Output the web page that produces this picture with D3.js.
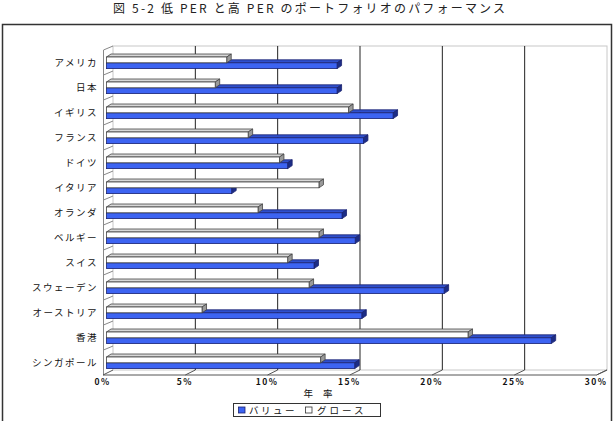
<!DOCTYPE html>
<html><head><meta charset="utf-8">
<script src="https://cdn.jsdelivr.net/npm/d3@7"></script>
<style>body{margin:0;background:#fff}svg{display:block}</style>
</head><body>
<script>
const categories = ["アメリカ","日本","イギリス","フランス","ドイツ","イタリア","オランダ","ベルギー","スイス","スウェーデン","オーストリア","香港","シンガポール"];
const growth = [7.3, 6.6, 14.7, 8.6, 10.5, 12.9, 9.2, 12.9, 11.0, 12.3, 5.8, 21.95, 13.0];
const value  = [14.0, 14.0, 17.4, 15.6, 11.0, 7.6, 14.3, 15.1, 12.6, 20.5, 15.5, 27.0, 15.07];
const ticks = [0, 5, 10, 15, 20, 25, 30];
const tickLabels = ["0%","5%","10%","15%","20%","25%","30%"];
const seriesNames = ["バリュー","グロース"];
const title = "図 5-2  低 PER と高 PER のポートフォリオのパフォーマンス";
const xTitle = "年 率";

const W = 615, H = 421;
const font = "'Noto Sans CJK JP', 'Noto Sans', sans-serif";
const svg = d3.select("body").append("svg").attr("width", W).attr("height", H);

// title
svg.append("text").attr("x", 309).attr("y", 12.5).attr("text-anchor", "middle")
  .attr("font-family", font).attr("font-size", 12).attr("fill", "#222")
  .attr("textLength", 392).attr("lengthAdjust", "spacing").text(title);

// outer frame
svg.append("rect").attr("x", 2.5).attr("y", 24.5).attr("width", 609).attr("height", 410)
  .attr("fill", "none").attr("stroke", "#333").attr("stroke-width", 1.5);

const yTop = 46, yBot = 371;
const y = d3.scaleBand().domain(categories).range([yTop, yBot]);
const xBack = d3.scaleLinear().domain([0, 30]).range([113, 607]);
const xFront = d3.scaleLinear().domain([0, 30]).range([103, 596.5]);
const xBar = d3.scaleLinear().domain([0, 30]).range([106.5, 600.6]);
const floorBack = 370, floorFront = 375;

// back wall
svg.append("rect").attr("x", xBack(0)).attr("y", yTop).attr("width", xBack(30) - xBack(0))
  .attr("height", floorBack - yTop).attr("fill", "#fff").attr("stroke", "#c8c8c8").attr("stroke-width", 1);
// gridlines
svg.append("g").selectAll("line").data(ticks.slice(1, -1)).join("line")
  .attr("x1", d => xBack(d)).attr("x2", d => xBack(d)).attr("y1", yTop).attr("y2", floorBack)
  .attr("stroke", "#222").attr("stroke-width", 1);
// left wall
svg.append("path").attr("d", `M${xFront(0)+0.5},${floorFront} L${xFront(0)+0.5},${yTop+4} L${xBack(0)},${yTop}`)
  .attr("fill", "none").attr("stroke", "#888").attr("stroke-width", 1);
svg.append("g").selectAll("line").data(d3.range(1, categories.length)).join("line")
  .attr("x1", xFront(0) + 0.5).attr("x2", xBack(0)).attr("y1", i => yTop + i * y.step() + 4).attr("y2", i => yTop + i * y.step())
  .attr("stroke", "#888").attr("stroke-width", 1);
// floor
svg.append("path").attr("d", `M${xFront(0)},${floorFront} L${xFront(30)},${floorFront} L${xBack(30)},${floorBack}`)
  .attr("fill", "none").attr("stroke", "#555").attr("stroke-width", 1);
svg.append("g").selectAll("line").data(ticks).join("line")
  .attr("x1", d => xFront(d)).attr("x2", d => xBack(d)).attr("y1", floorFront).attr("y2", floorBack)
  .attr("stroke", "#555").attr("stroke-width", 1);

// bars
const dx = 4.5, dy = 3, bh = 5.8;
function bar3d(g, v, top, fill, topFill, sideFill, stroke) {
  const x0 = xBar(0), x1 = xBar(v);
  g.append("path").attr("d", `M${x0},${top} L${x0+dx},${top-dy} L${x1+dx},${top-dy} L${x1},${top} Z`)
    .attr("fill", topFill).attr("stroke", stroke).attr("stroke-width", 0.8);
  g.append("path").attr("d", `M${x1},${top} L${x1+dx},${top-dy} L${x1+dx},${top+bh-dy} L${x1},${top+bh} Z`)
    .attr("fill", sideFill).attr("stroke", stroke).attr("stroke-width", 0.8);
  g.append("rect").attr("x", x0).attr("y", top).attr("width", x1 - x0).attr("height", bh)
    .attr("fill", fill).attr("stroke", stroke).attr("stroke-width", 0.8);
}
const barsG = svg.append("g");
categories.forEach((c, i) => {
  const b = y(c);
  const g = barsG.append("g");
  bar3d(g, value[i], b + 11 + bh, "#3d64f2", "#2f4fcc", "#1c2d86", "#1a2270");
  bar3d(g, growth[i], b + 11, "#ffffff", "#d8d8d8", "#9a9a9a", "#444");
});

// category labels
svg.append("g").selectAll("text").data(categories).join("text")
  .attr("x", 98).attr("y", d => y(d) + 19.5).attr("text-anchor", "end")
  .attr("font-family", font).attr("font-size", 9.5).attr("letter-spacing", "1.5px").attr("fill", "#111")
  .text(d => d);

// tick labels
svg.append("g").selectAll("text").data(ticks).join("text")
  .attr("x", d => xFront(d) - 0.5).attr("y", 385).attr("text-anchor", "middle")
  .attr("font-family", font).attr("font-size", 8.5).attr("font-weight", 600).attr("letter-spacing", "1.5px").attr("fill", "#111")
  .text((d, i) => tickLabels[i]);

// axis title
svg.append("text").attr("x", 320).attr("y", 397).attr("text-anchor", "middle")
  .attr("font-family", font).attr("font-size", 9.5).attr("letter-spacing", "4px").attr("fill", "#111").text(xTitle);

// legend
const lg = svg.append("g");
lg.append("rect").attr("x", 233.5).attr("y", 403.5).attr("width", 147).attr("height", 13)
  .attr("fill", "#fff").attr("stroke", "#333").attr("stroke-width", 1);
lg.append("rect").attr("x", 238.5).attr("y", 407).attr("width", 6.5).attr("height", 6)
  .attr("fill", "#3d64f2").attr("stroke", "#1a2270").attr("stroke-width", 0.8);
lg.append("text").attr("x", 249).attr("y", 414).attr("font-family", font).attr("font-size", 9.5)
  .attr("letter-spacing", "2.5px").attr("fill", "#111").text(seriesNames[0]);
lg.append("rect").attr("x", 305.5).attr("y", 407).attr("width", 6.5).attr("height", 6)
  .attr("fill", "#fff").attr("stroke", "#333").attr("stroke-width", 0.8);
lg.append("text").attr("x", 317).attr("y", 414).attr("font-family", font).attr("font-size", 9.5)
  .attr("letter-spacing", "3px").attr("fill", "#111").text(seriesNames[1]);
</script>
</body></html>
